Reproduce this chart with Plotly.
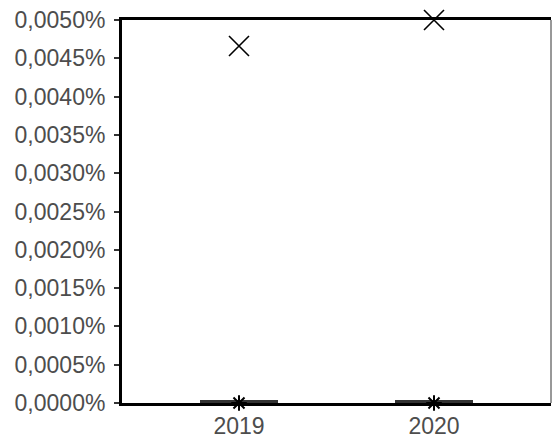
import plotly.graph_objects as go

categories = ["2019", "2020"]
q1 = [0.0, 0.0]
median = [0.0, 0.0]
q3 = [0.0, 0.0]
lower = [0.0, 0.0]
upper = [0.0, 0.0]
means = [0.0, 0.0]
outlier_y = [0.00466, 0.0050]
tick_vals = [i * 0.0005 for i in range(11)]
tick_text = ["0,0000%", "0,0005%", "0,0010%", "0,0015%", "0,0020%", "0,0025%",
             "0,0030%", "0,0035%", "0,0040%", "0,0045%", "0,0050%"]

fig = go.Figure()
fig.add_trace(go.Box(
    x=categories, q1=q1, median=median, q3=q3,
    lowerfence=lower, upperfence=upper,
    boxpoints=False, width=0.4,
    line=dict(color="#333333", width=6), fillcolor="white",
    whiskerwidth=0, showlegend=False, hoverinfo="skip",
))
fig.add_trace(go.Scatter(
    x=categories, y=outlier_y, mode="markers", cliponaxis=False,
    marker=dict(symbol="x-thin-open", size=20, color="black", line=dict(color="black", width=1.6)),
    showlegend=False,
))
fig.add_trace(go.Scatter(
    x=categories, y=means, mode="markers", cliponaxis=False,
    marker=dict(symbol="asterisk-open", size=13, color="black", line=dict(color="black", width=2)),
    showlegend=False,
))

font_family = "Liberation Sans, Arial, sans-serif"
fig.update_layout(
    width=552, height=439,
    margin=dict(l=122, r=1, t=20, b=36),
    paper_bgcolor="white", plot_bgcolor="white",
    font=dict(family=font_family, size=23, color="#4d4d4d"),
    xaxis=dict(
        type="category", range=[-0.6, 1.6],
        showline=True, linecolor="black", linewidth=3, mirror=True,
        showgrid=False, zeroline=False, ticks="",
        tickfont=dict(size=23, color="#4d4d4d"),
    ),
    yaxis=dict(
        range=[0, 0.005], tickvals=tick_vals, ticktext=tick_text,
        showline=True, linecolor="black", linewidth=3,
        showgrid=False, zeroline=False,
        ticks="outside", ticklen=5, tickwidth=2, tickcolor="#333333",
        ticklabelstandoff=4,
        tickfont=dict(size=23, color="#4d4d4d"),
    ),
    shapes=[dict(type="line", xref="paper", yref="paper", x0=1, x1=1, y0=0, y1=1,
                 line=dict(color="#333333", width=1))],
)
fig.write_html("out.html", config={"displayModeBar": False},
               post_script="document.body.style.margin='0';document.body.style.padding='0';document.body.style.overflow='hidden';")
